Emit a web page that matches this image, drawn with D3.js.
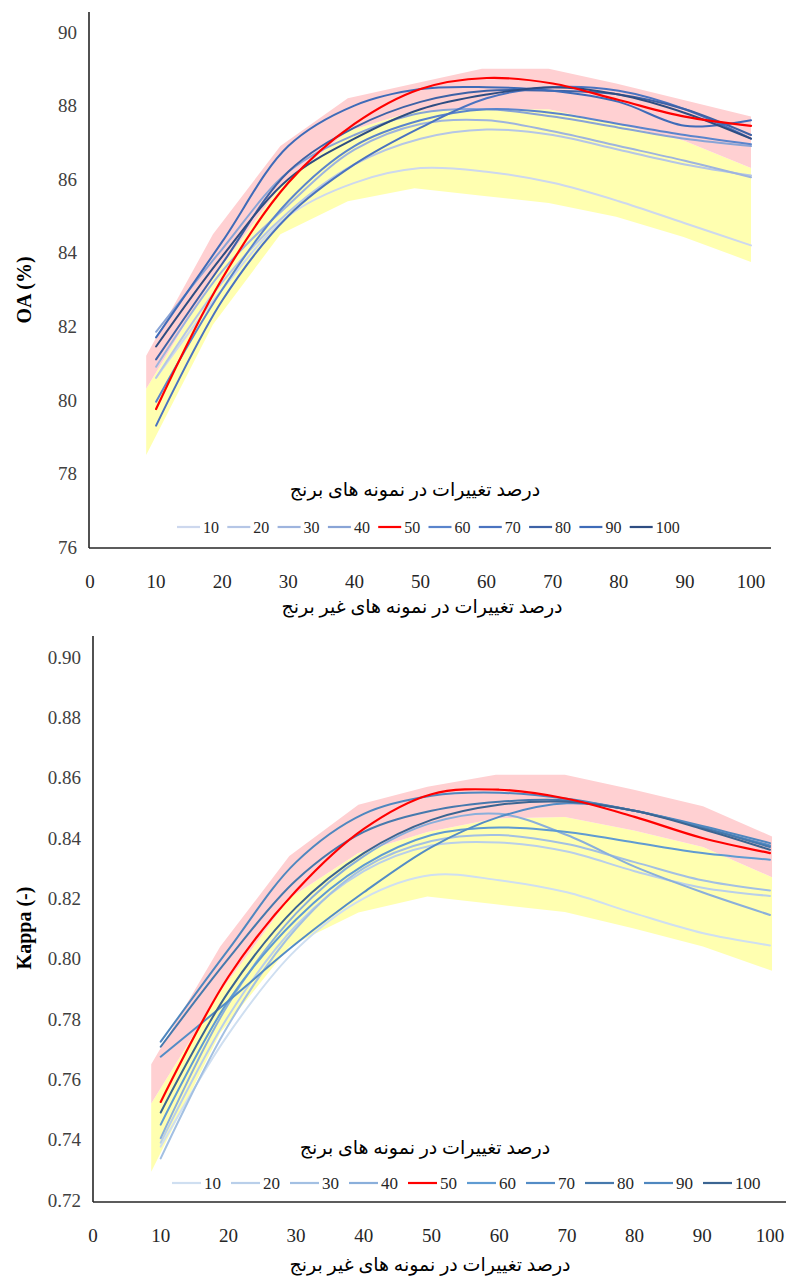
<!DOCTYPE html>
<html>
<head>
<meta charset="utf-8">
<script src="https://cdn.jsdelivr.net/npm/d3@7"></script>
<style>
  html, body { margin: 0; padding: 0; background: #fff; }
  svg { display: block; }
  text { font-family: "Liberation Serif", "Times New Roman", "DejaVu Sans", serif; }
</style>
</head>
<body>
<svg id="chart" width="793" height="1282"></svg>
<script>
// ---------------- DATA ----------------
const xValues = [10, 20, 30, 40, 50, 60, 70, 80, 90, 100];
const seriesNames = ["10", "20", "30", "40", "50", "60", "70", "80", "90", "100"];
const xTicks = [0, 10, 20, 30, 40, 50, 60, 70, 80, 90, 100];

// Top chart: OA (%)
const oaTicks = [76, 78, 80, 82, 84, 86, 88, 90];
const oa10  = [80.6, 83.0, 85.0, 85.9, 86.3, 86.2, 85.9, 85.4, 84.8, 84.2];
const oa20  = [80.6, 83.2, 85.1, 86.4, 87.1, 87.35, 87.2, 86.8, 86.4, 86.1];
const oa30  = [80.9, 83.5, 85.3, 86.8, 87.5, 87.6, 87.3, 86.9, 86.5, 86.05];
const oa40  = [81.85, 84.1, 86.2, 87.2, 87.8, 87.9, 87.7, 87.4, 87.1, 86.9];
const oa50  = [79.75, 83.3, 85.9, 87.5, 88.45, 88.75, 88.6, 88.15, 87.7, 87.45];
const oa60  = [79.95, 83.0, 85.4, 86.9, 87.6, 87.9, 87.8, 87.5, 87.2, 86.95];
const oa70  = [79.3, 82.7, 85.0, 86.4, 87.4, 88.2, 88.5, 88.4, 87.9, 87.1];
const oa80  = [81.1, 83.7, 86.2, 87.4, 88.1, 88.4, 88.4, 88.3, 87.9, 87.2];
const oa90  = [81.7, 84.3, 86.9, 88.0, 88.45, 88.5, 88.4, 88.1, 87.45, 87.6];
const oa100 = [81.45, 83.9, 86.0, 87.1, 87.9, 88.3, 88.5, 88.3, 87.8, 87.1];
// Shaded envelopes (top chart)
const oaBandX     = [8.5, 18.6, 28.8, 39.0, 49.1, 59.3, 69.4, 79.6, 89.8, 100];
const oaBandUpper = [81.2, 84.5, 86.9, 88.2, 88.6, 89.0, 89.0, 88.6, 88.15, 87.7];
const oaBandMid   = [80.3, 83.3, 85.8, 87.3, 87.85, 87.9, 87.9, 87.5, 87.05, 86.3];
const oaBandLower = [78.5, 82.05, 84.5, 85.4, 85.75, 85.55, 85.35, 84.98, 84.43, 83.75];

// Bottom chart: Kappa (-)
const kTicks = [0.72, 0.74, 0.76, 0.78, 0.80, 0.82, 0.84, 0.86, 0.88, 0.90];
const k10  = [0.7377, 0.775, 0.803, 0.820, 0.8277, 0.826, 0.822, 0.815, 0.8085, 0.8044];
const k20  = [0.739, 0.781, 0.811, 0.829, 0.8375, 0.8385, 0.8355, 0.829, 0.8235, 0.8208];
const k30  = [0.7338, 0.778, 0.810, 0.830, 0.839, 0.841, 0.838, 0.832, 0.826, 0.8226];
const k40  = [0.7405, 0.785, 0.815, 0.834, 0.845, 0.848, 0.841, 0.8305, 0.822, 0.8145];
const k50  = [0.7525, 0.794, 0.8225, 0.843, 0.8545, 0.856, 0.853, 0.847, 0.840, 0.835];
const k60  = [0.745, 0.786, 0.813, 0.831, 0.841, 0.8435, 0.842, 0.8385, 0.835, 0.8328];
const k70  = [0.7675, 0.786, 0.805, 0.822, 0.837, 0.847, 0.8515, 0.849, 0.8435, 0.8375];
const k80  = [0.7708, 0.800, 0.826, 0.842, 0.849, 0.852, 0.8525, 0.849, 0.8435, 0.837];
const k90  = [0.7725, 0.803, 0.832, 0.848, 0.854, 0.855, 0.853, 0.849, 0.844, 0.8383];
const k100 = [0.749, 0.789, 0.817, 0.835, 0.846, 0.851, 0.852, 0.849, 0.843, 0.8361];
const kBandX     = [8.6, 18.8, 29.0, 39.2, 49.4, 59.5, 69.7, 79.9, 90.1, 100.3];
const kBandUpper = [0.765, 0.804, 0.834, 0.851, 0.857, 0.861, 0.861, 0.856, 0.8505, 0.8405];
const kBandMid   = [0.752, 0.789, 0.820, 0.835, 0.842, 0.8465, 0.847, 0.8425, 0.837, 0.827];
const kBandLower = [0.7294, 0.7754, 0.804, 0.8153, 0.8206, 0.818, 0.8155, 0.810, 0.804, 0.796];

const legendTitle = "درصد تغییرات در نمونه های برنج";
const xTitle = "درصد تغییرات در نمونه های غیر برنج";

const topColors = ["#cdd8ee", "#b5c6e6", "#9eb4de", "#89a4d6", "#ff0000", "#5a84cc", "#4a73c0", "#3d62a6", "#3e6bb8", "#2e4d82"];
const botColors = ["#cfdff1", "#b9cfea", "#a3c0e3", "#8aafdb", "#ff0000", "#5f9bd2", "#538cc6", "#4679ad", "#4f87bf", "#3b6592"];

// ---------------- DRAW ----------------
const svg = d3.select("#chart");

function drawChart(cfg) {
  const x = d3.scaleLinear().domain([0, 100]).range([cfg.x0, cfg.x100]);
  const y = d3.scaleLinear().domain(cfg.yDomain).range(cfg.yRange);
  const g = svg.append("g");

  // bands
  const bandPts = cfg.bandX.map((bx, i) => ({x: bx, lo: cfg.lower[i], mid: cfg.mid[i], up: cfg.upper[i]}));
  g.append("path").datum(bandPts)
    .attr("fill", "#ffffb0")
    .attr("d", d3.area().x(d => x(d.x)).y0(d => y(d.lo)).y1(d => y(d.mid)));
  g.append("path").datum(bandPts)
    .attr("fill", "#ffd0d2")
    .attr("d", d3.area().x(d => x(d.x)).y0(d => y(d.mid)).y1(d => y(d.up)));

  // lines
  const line = d3.line().x(d => x(d[0])).y(d => y(d[1])).curve(d3.curveCatmullRom.alpha(0.5));
  const order = [0, 1, 2, 3, 5, 6, 7, 8, 9, 4];
  order.forEach(i => {
    const pts = xValues.map((xv, j) => [xv, cfg.series[i][j]]);
    g.append("path").datum(pts)
      .attr("fill", "none")
      .attr("stroke", cfg.colors[i])
      .attr("stroke-width", i === 4 ? 2.2 : 2)
      .attr("stroke-linecap", "round")
      .attr("d", line);
  });

  // axes lines
  g.append("line").attr("x1", cfg.axisX).attr("x2", cfg.axisX)
    .attr("y1", cfg.axisTop).attr("y2", cfg.axisBottom)
    .attr("stroke", "#262626").attr("stroke-width", 1.6);
  g.append("line").attr("x1", cfg.axisX).attr("x2", cfg.axisRight)
    .attr("y1", cfg.axisBottom).attr("y2", cfg.axisBottom)
    .attr("stroke", "#262626").attr("stroke-width", 1.6);

  // y tick labels
  g.selectAll(null).data(cfg.yTicks).enter().append("text")
    .attr("x", cfg.axisX - 12).attr("y", d => y(d)).attr("dy", "0.35em")
    .attr("text-anchor", "end").attr("font-size", 19).attr("fill", "#404040")
    .text(cfg.yFmt);

  // x tick labels
  g.selectAll(null).data(xTicks).enter().append("text")
    .attr("x", d => x(d)).attr("y", cfg.xLabelY)
    .attr("text-anchor", "middle").attr("font-size", 19).attr("fill", "#262626")
    .text(d => d);

  // titles
  g.append("text").attr("transform", `translate(${cfg.yTitleX},${cfg.yTitleY}) rotate(-90)`)
    .attr("text-anchor", "middle").attr("font-size", 20).attr("font-weight", "bold")
    .attr("fill", "#000").text(cfg.yTitle);
  g.append("text").attr("x", cfg.xTitleX).attr("y", cfg.xTitleY)
    .attr("text-anchor", "middle").attr("font-size", 19).attr("fill", "#000")
    .attr("direction", "rtl").text(xTitle);

  // legend
  g.append("text").attr("x", cfg.legTitleX).attr("y", cfg.legTitleY)
    .attr("text-anchor", "middle").attr("font-size", 19).attr("fill", "#000")
    .attr("direction", "rtl").text(legendTitle);
  seriesNames.forEach((name, i) => {
    const lx = cfg.legX + i * cfg.legStep;
    g.append("line").attr("x1", lx).attr("x2", lx + cfg.legLine)
      .attr("y1", cfg.legY).attr("y2", cfg.legY)
      .attr("stroke", cfg.colors[i]).attr("stroke-width", 2.2);
    g.append("text").attr("x", lx + cfg.legLine + 3).attr("y", cfg.legY).attr("dy", "0.35em")
      .attr("font-size", cfg.legFont).attr("fill", "#262626").text(name);
  });
}

drawChart({
  x0: 90, x100: 751,
  yDomain: [76, 90], yRange: [547, 32],
  axisX: 89, axisTop: 12, axisBottom: 548, axisRight: 771,
  yTicks: oaTicks, yFmt: d => d,
  series: [oa10, oa20, oa30, oa40, oa50, oa60, oa70, oa80, oa90, oa100],
  colors: topColors,
  bandX: oaBandX, upper: oaBandUpper, mid: oaBandMid, lower: oaBandLower,
  xLabelY: 588,
  yTitle: "OA (%)", yTitleX: 31, yTitleY: 290,
  xTitleX: 422, xTitleY: 613,
  legTitleX: 415, legTitleY: 496,
  legX: 177, legStep: 50.3, legLine: 23, legY: 527, legFont: 16
});

drawChart({
  x0: 93, x100: 770,
  yDomain: [0.72, 0.90], yRange: [1200, 657],
  axisX: 93, axisTop: 636, axisBottom: 1202, axisRight: 786,
  yTicks: kTicks, yFmt: d => d3.format(".2f")(d),
  series: [k10, k20, k30, k40, k50, k60, k70, k80, k90, k100],
  colors: botColors,
  bandX: kBandX, upper: kBandUpper, mid: kBandMid, lower: kBandLower,
  xLabelY: 1242,
  yTitle: "Kappa (-)", yTitleX: 31, yTitleY: 928,
  xTitleX: 430, xTitleY: 1271,
  legTitleX: 425, legTitleY: 1154,
  legX: 172, legStep: 59, legLine: 29, legY: 1183, legFont: 17
});
</script>
</body>
</html>
